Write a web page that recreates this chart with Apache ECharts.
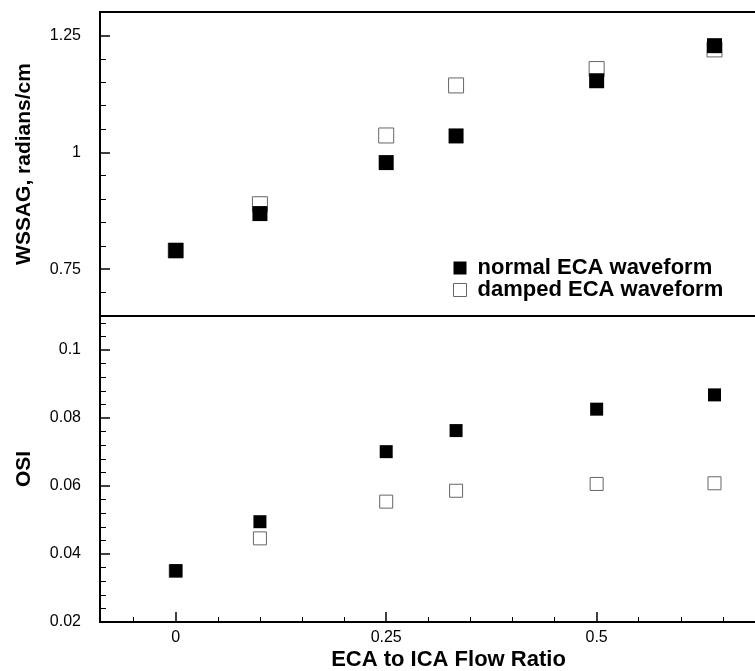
<!DOCTYPE html>
<html>
<head>
<meta charset="utf-8">
<script src="https://cdn.jsdelivr.net/npm/echarts@6/dist/echarts.min.js"></script>
<style>
html,body{margin:0;padding:0;background:#fff;}
#chart{width:755px;height:671px;}
</style>
</head>
<body>
<div id="chart"></div>
<script>
// ---- data ----
const xValues = [0, 0.1, 0.25, 0.333, 0.5, 0.64];
const wssagNormal = [0.79, 0.869, 0.978, 1.035, 1.153, 1.228];
const wssagDamped = [0.79, 0.889, 1.036, 1.143, 1.178, 1.22];
const osiNormal = [0.0351, 0.0495, 0.0701, 0.0763, 0.0826, 0.0868];
const osiDamped = [0.035, 0.0446, 0.0554, 0.0586, 0.0606, 0.0608];

const xMajorTicks = [0, 0.25, 0.5];
const xMinorTicks = [-0.05, 0.05, 0.1, 0.15, 0.2, 0.3, 0.35, 0.4, 0.45, 0.55, 0.6, 0.65];
const wssagMajorTicks = [0.75, 1, 1.25];
const wssagMinorTicks = [0.7, 0.8, 0.85, 0.9, 0.95, 1.05, 1.1, 1.15, 1.2];
const osiMajorTicks = [0.02, 0.04, 0.06, 0.08, 0.1];
const osiMinorTicks = [0.024, 0.028, 0.032, 0.036, 0.044, 0.048, 0.052, 0.056, 0.064, 0.068, 0.072, 0.076, 0.084, 0.088, 0.092, 0.096, 0.104, 0.108];

const nameNormal = 'normal ECA waveform';
const nameDamped = 'damped ECA waveform';
const xTitle = 'ECA to ICA Flow Ratio';
const yTitleTop = 'WSSAG, radians/cm';
const yTitleBottom = 'OSI';

const FONT = '"Liberation Sans", Arial, Helvetica, sans-serif';
const pairs = (xs, ys) => xs.map((x, i) => [x, ys[i]]);
const fmt = v => String(+(+v).toFixed(4));

function majorAxis(extra) {
  return Object.assign({
    type: 'value',
    axisLine: { show: false, onZero: false },
    splitLine: { show: false },
    axisTick: { show: true, inside: true, length: 10, lineStyle: { color: '#000', width: 1.5 } },
    axisLabel: { show: true, color: '#000', fontSize: 16, fontFamily: FONT, formatter: fmt }
  }, extra);
}
function minorAxis(extra) {
  return Object.assign({
    type: 'value',
    axisLine: { show: false, onZero: false },
    splitLine: { show: false },
    axisTick: { show: true, inside: true, length: 5, lineStyle: { color: '#000', width: 1 } },
    axisLabel: { show: false }
  }, extra);
}

const chart = echarts.init(document.getElementById('chart'), null, { renderer: 'canvas' });

const filledStyle = { color: '#000', borderColor: '#000', borderWidth: 0, opacity: 1 };
const hollowStyle = { color: '#fff', borderColor: '#666', borderWidth: 1, opacity: 1 };

chart.setOption({
  backgroundColor: '#fff',
  animation: false,
  textStyle: { fontFamily: FONT },
  grid: [
    { left: 100, right: -10, top: 12, height: 304, show: true, borderColor: '#000', borderWidth: 2, backgroundColor: 'transparent', containLabel: false, outerBoundsMode: 'none' },
    { left: 100, right: -10, top: 316, height: 306, show: true, borderColor: '#000', borderWidth: 2, backgroundColor: 'transparent', containLabel: false, outerBoundsMode: 'none' }
  ],
  xAxis: [
    majorAxis({ gridIndex: 0, position: 'bottom', min: -0.09, max: 0.7, axisTick: { show: false }, axisLabel: { show: false } }),
    majorAxis({ gridIndex: 1, position: 'bottom', min: -0.09, max: 0.7,
      axisTick: { show: true, inside: true, length: 10, customValues: xMajorTicks, lineStyle: { color: '#000', width: 1.5 } },
      axisLabel: { show: true, color: '#000', fontSize: 16, fontFamily: FONT, margin: 8, customValues: xMajorTicks, formatter: fmt },
      name: xTitle, nameLocation: 'middle', nameGap: 27,
      nameTextStyle: { color: '#000', fontSize: 22, fontWeight: 'bold', fontFamily: FONT, padding: [0, 0, 0, 32] } }),
    minorAxis({ gridIndex: 1, position: 'bottom', min: -0.09, max: 0.7,
      axisTick: { show: true, inside: true, length: 5, customValues: xMinorTicks, lineStyle: { color: '#000', width: 1 } } })
  ],
  yAxis: [
    majorAxis({ gridIndex: 0, position: 'left', min: 0.65, max: 1.3,
      axisTick: { show: true, inside: true, length: 10, customValues: wssagMajorTicks, lineStyle: { color: '#000', width: 1.5 } },
      axisLabel: { show: true, color: '#000', fontSize: 16, fontFamily: FONT, margin: 19, customValues: wssagMajorTicks, formatter: fmt },
      name: yTitleTop, nameLocation: 'middle', nameGap: 65, nameRotate: 90,
      nameTextStyle: { color: '#000', fontSize: 21, fontWeight: 'bold', fontFamily: FONT } }),
    minorAxis({ gridIndex: 0, position: 'left', min: 0.65, max: 1.3,
      axisTick: { show: true, inside: true, length: 6, customValues: wssagMinorTicks, lineStyle: { color: '#000', width: 1 } } }),
    majorAxis({ gridIndex: 1, position: 'left', min: 0.02, max: 0.11,
      axisTick: { show: true, inside: true, length: 10, customValues: osiMajorTicks, lineStyle: { color: '#000', width: 1.5 } },
      axisLabel: { show: true, color: '#000', fontSize: 16, fontFamily: FONT, margin: 19, customValues: osiMajorTicks, formatter: fmt },
      name: yTitleBottom, nameLocation: 'middle', nameGap: 65, nameRotate: 90,
      nameTextStyle: { color: '#000', fontSize: 21, fontWeight: 'bold', fontFamily: FONT } }),
    minorAxis({ gridIndex: 1, position: 'left', min: 0.02, max: 0.11,
      axisTick: { show: true, inside: true, length: 6, customValues: osiMinorTicks, lineStyle: { color: '#000', width: 1 } } })
  ],
  legend: {
    show: true,
    orient: 'vertical',
    left: 453,
    top: 257,
    itemWidth: 13,
    itemHeight: 13,
    itemGap: 0,
    padding: 0,
    data: [
      { name: nameNormal, icon: 'rect', itemStyle: filledStyle },
      { name: nameDamped, icon: 'rect', itemStyle: hollowStyle }
    ],
    textStyle: { color: '#000', fontSize: 22, fontWeight: 'bold', fontFamily: FONT, padding: [0, 0, 0, 6] },
    selectedMode: false
  },
  series: [
    { name: nameDamped, type: 'scatter', xAxisIndex: 0, yAxisIndex: 0, symbol: 'rect', symbolSize: 15,
      itemStyle: hollowStyle, data: pairs(xValues, wssagDamped), z: 2 },
    { name: nameNormal, type: 'scatter', xAxisIndex: 0, yAxisIndex: 0, symbol: 'rect', symbolSize: 15,
      itemStyle: filledStyle, data: pairs(xValues, wssagNormal), z: 3 },
    { name: nameDamped, type: 'scatter', xAxisIndex: 1, yAxisIndex: 2, symbol: 'rect', symbolSize: 13,
      itemStyle: hollowStyle, data: pairs(xValues, osiDamped), z: 2 },
    { name: nameNormal, type: 'scatter', xAxisIndex: 1, yAxisIndex: 2, symbol: 'rect', symbolSize: 13,
      itemStyle: filledStyle, data: pairs(xValues, osiNormal), z: 3 }
  ]
});
</script>
</body>
</html>
